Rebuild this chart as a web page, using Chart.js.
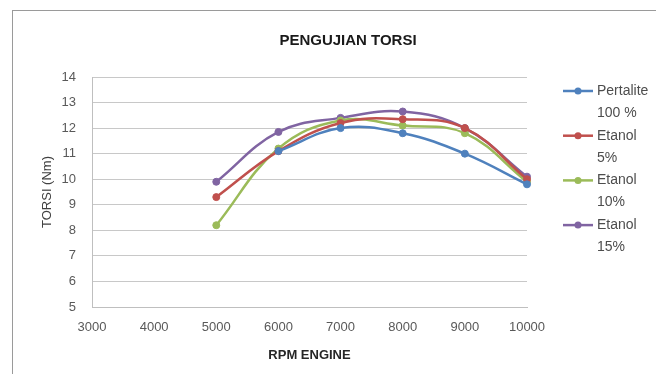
<!DOCTYPE html>
<html>
<head>
<meta charset="utf-8">
<script src="https://cdn.jsdelivr.net/npm/chart.js@4/dist/chart.umd.min.js"></script>
<style>
  html, body { margin: 0; padding: 0; background: #fff; }
  #wrap { position: relative; width: 656px; height: 374px; overflow: hidden; }
  #c { position: absolute; left: 0; top: 0; }
  #frame { position: absolute; left: 12px; top: 10px; width: 700px; height: 400px;
           border-left: 1px solid #9a9a9a; border-top: 1px solid #9a9a9a; pointer-events: none; }
</style>
</head>
<body>
<div id="wrap">
  <canvas id="c" width="656" height="374"></canvas>
  <div id="frame"></div>
</div>
<script>
// ---- data ----
const chartTitle = 'PENGUJIAN TORSI';
const xAxisTitle = 'RPM ENGINE';
const yAxisTitle = 'TORSI (Nm)';
const rpm = [5000, 6000, 7000, 8000, 9000, 10000];
const pertalite100 = [null, 11.1, 12.0, 11.8, 11.0, 9.8];
const etanol5 = [9.3, 11.1, 12.2, 12.35, 12.0, 10.0];
const etanol10 = [8.2, 11.2, 12.3, 12.1, 11.8, 9.9];
const etanol15 = [9.9, 11.85, 12.4, 12.65, 12.0, 10.1];
const seriesLabels = [['Pertalite', '100 %'], ['Etanol', '5%'], ['Etanol', '10%'], ['Etanol', '15%']];
const seriesColors = ['#4F81BD', '#C0504D', '#9BBB59', '#8064A2'];
const xMin = 3000, xMax = 10000, xStep = 1000;
const yMin = 5, yMax = 14, yStep = 1;

const FONT = '"Liberation Sans", Arial, sans-serif';

function pts(vals) {
  const out = [];
  vals.forEach((v, i) => { if (v !== null) out.push({ x: rpm[i], y: v }); });
  return out;
}

const allSeries = [pertalite100, etanol5, etanol10, etanol15];
const datasets = allSeries.map((vals, i) => ({
  label: seriesLabels[i].join(' '),
  legendLines: seriesLabels[i],
  data: pts(vals),
  showLine: true,
  borderColor: seriesColors[i],
  backgroundColor: seriesColors[i],
  borderWidth: 2.5,
  pointRadius: 3.5,
  pointBorderWidth: 1,
  tension: 0.4,
  clip: false,
  fill: false
}));

const decorPlugin = {
  id: 'decor',
  afterDraw(chart) {
    const ctx = chart.ctx;
    ctx.save();
    // chart title
    ctx.fillStyle = '#1a1a1a';
    ctx.font = 'bold 15px ' + FONT;
    ctx.textAlign = 'center';
    ctx.textBaseline = 'middle';
    ctx.fillText(chartTitle, 348, 41);
    // legend
    const lx0 = 563, lx1 = 593, tx = 597;
    const startY = 91, itemGap = 44.7, lineGap = 22;
    ctx.font = '14px ' + FONT;
    ctx.textAlign = 'left';
    chart.data.datasets.forEach((ds, i) => {
      const y = startY + i * itemGap;
      ctx.strokeStyle = ds.borderColor;
      ctx.lineWidth = 2.5;
      ctx.beginPath(); ctx.moveTo(lx0, y); ctx.lineTo(lx1, y); ctx.stroke();
      ctx.fillStyle = ds.backgroundColor;
      ctx.beginPath(); ctx.arc((lx0 + lx1) / 2, y, 3.5, 0, Math.PI * 2); ctx.fill();
      ctx.fillStyle = '#4d4d4d';
      ds.legendLines.forEach((t, k) => ctx.fillText(t, tx, y + k * lineGap));
    });
    ctx.restore();
  }
};

new Chart(document.getElementById('c'), {
  type: 'scatter',
  data: { datasets },
  options: {
    responsive: false,
    animation: false,
    layout: { padding: { left: 38, right: 129, top: 77, bottom: 7 } },
    plugins: { legend: { display: false }, title: { display: false }, tooltip: { enabled: false } },
    scales: {
      x: {
        type: 'linear', min: xMin, max: xMax,
        afterFit(s) { s.height = 60; },
        grid: { display: false, drawTicks: false },
        border: { display: true, color: '#bfbfbf' },
        ticks: { stepSize: xStep, padding: 13, color: '#595959', font: { family: FONT, size: 13 },
                 callback: v => String(v) },
        title: { display: true, text: xAxisTitle, color: '#262626', padding: { top: 0, bottom: 4 },
                 font: { family: FONT, size: 13, weight: 'bold' } }
      },
      y: {
        min: yMin, max: yMax,
        afterFit(s) { s.width = 54; },
        grid: { color: '#c8c8c8', lineWidth: 1, drawTicks: false },
        border: { display: true, color: '#bfbfbf' },
        ticks: { stepSize: yStep, padding: 16, color: '#595959', font: { family: FONT, size: 13 } },
        title: { display: true, text: yAxisTitle, color: '#404040', padding: { top: 2, bottom: 0 },
                 font: { family: FONT, size: 13 } }
      }
    }
  },
  plugins: [decorPlugin]
});
</script>
</body>
</html>
